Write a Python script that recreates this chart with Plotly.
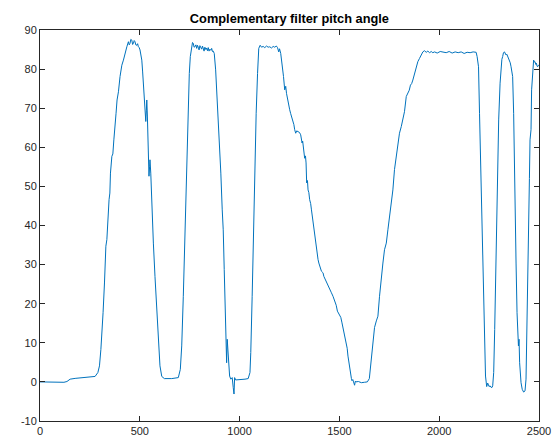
import plotly.graph_objects as go

# Sample index
sample = [
    0, 40, 80, 120, 135, 151, 176, 226, 276, 290, 298, 305, 310, 316, 323, 326, 330, 335, 340, 346,
    350, 353, 360, 365, 370, 376, 381, 386, 393, 401, 410, 418, 426, 435, 443, 447, 451, 455, 460, 464,
    468, 472, 476, 480, 485, 489, 493, 497, 501, 505, 510, 514, 518, 521, 523, 527, 530, 533, 535, 538,
    540, 543, 546, 549, 551, 555, 560, 563, 568, 576, 585, 593, 601, 610, 623, 660, 693, 703, 710, 718,
    726, 735, 740, 743, 748, 753, 760, 764, 768, 772, 776, 781, 785, 789, 793, 797, 801, 806, 810, 814,
    818, 822, 826, 831, 835, 839, 843, 847, 851, 856, 860, 864, 868, 873, 880, 887, 893, 901, 906, 913,
    918, 923, 928, 933, 935, 938, 943, 950, 956, 963, 968, 972, 975, 980, 1027, 1043, 1052, 1056, 1063, 1070,
    1076, 1083, 1090, 1096, 1103, 1110, 1118, 1126, 1135, 1143, 1151, 1160, 1168, 1176, 1184, 1190, 1196, 1200, 1206, 1213,
    1220, 1226, 1231, 1235, 1239, 1243, 1247, 1251, 1256, 1260, 1264, 1268, 1272, 1276, 1281, 1286, 1293, 1300, 1306, 1313,
    1316, 1320, 1326, 1330, 1333, 1336, 1340, 1343, 1347, 1351, 1356, 1360, 1364, 1368, 1372, 1376, 1380, 1385, 1389, 1393,
    1397, 1401, 1405, 1410, 1414, 1418, 1422, 1426, 1430, 1435, 1443, 1451, 1460, 1468, 1476, 1484, 1490, 1496, 1501, 1507,
    1513, 1518, 1523, 1529, 1535, 1539, 1543, 1547, 1551, 1556, 1560, 1563, 1567, 1571, 1574, 1576, 1580, 1583, 1595, 1610,
    1625, 1640, 1650, 1656, 1663, 1670, 1676, 1685, 1693, 1701, 1710, 1718, 1726, 1735, 1743, 1751, 1760, 1768, 1776, 1785,
    1793, 1801, 1810, 1818, 1826, 1835, 1843, 1850, 1856, 1862, 1868, 1876, 1885, 1893, 1901, 1910, 1918, 1926, 1935, 1943,
    1952, 1960, 1968, 1977, 1990, 2005, 2020, 2035, 2050, 2065, 2080, 2095, 2110, 2125, 2140, 2155, 2170, 2185, 2190, 2197,
    2202, 2207, 2212, 2217, 2222, 2226, 2232, 2238, 2243, 2250, 2255, 2260, 2265, 2268, 2273, 2278, 2283, 2288, 2293, 2298,
    2305, 2310, 2314, 2318, 2322, 2327, 2331, 2335, 2339, 2343, 2348, 2352, 2356, 2360, 2364, 2368, 2373, 2376, 2380, 2385,
    2390, 2397, 2400, 2403, 2410, 2416, 2423, 2430, 2435, 2440, 2445, 2450, 2452, 2455, 2458, 2460, 2463, 2468, 2473, 2477,
    2480, 2484, 2487, 2490, 2493, 2497, 2500,
]

# Pitch angle in degrees
pitch = [
    0.0, 0.0, -0.1, -0.1, 0.1, 0.7, 0.9, 1.1, 1.4, 2.4, 4.1, 8.3, 11.7, 17.7, 25.3, 30.4, 34.7, 36.4, 42.3, 46.6,
    48.3, 53.4, 57.7, 58.3, 61.9, 67.0, 68.7, 72.1, 74.2, 78.1, 81.0, 82.3, 83.6, 85.7, 87.0, 86.2, 86.6, 87.6, 87.4, 86.3,
    86.6, 87.3, 87.0, 86.2, 86.1, 86.5, 85.7, 85.5, 84.9, 84.0, 82.3, 79.5, 76.4, 74.7, 74.2, 70.0, 66.6, 69.5, 72.1, 68.0,
    65.3, 60.2, 52.6, 55.0, 56.8, 53.4, 45.7, 40.6, 35.5, 27.0, 19.4, 11.7, 4.1, 1.4, 0.85, 0.85, 1.1, 3.2, 9.2, 21.9,
    38.9, 51.7, 61.1, 70.4, 78.9, 83.2, 85.3, 86.8, 86.6, 85.6, 85.7, 86.2, 85.3, 86.1, 85.6, 84.9, 86.0, 85.4, 85.1, 85.9,
    85.2, 84.6, 85.6, 85.0, 85.4, 84.7, 85.5, 84.6, 85.1, 84.8, 85.3, 84.5, 84.6, 84.0, 79.8, 73.0, 66.2, 57.7, 53.4, 44.0,
    38.9, 28.7, 17.7, 5.8, 4.9, 10.9, 6.6, 1.5, 0.7, 1.1, -1.4, -3.1, 1.1, 0.5, 0.7, 0.85, 2.4, 7.5, 21.9, 38.9,
    56.0, 68.7, 78.9, 85.3, 86.1, 85.6, 85.8, 85.5, 85.9, 85.6, 85.7, 85.4, 85.8, 85.6, 85.9, 85.5, 84.4, 85.2, 84.0, 81.5,
    78.1, 74.7, 75.6, 73.8, 72.6, 71.3, 70.9, 69.6, 68.6, 67.9, 67.5, 67.0, 65.8, 64.5, 63.6, 64.2, 64.0, 63.8, 63.2, 61.1,
    61.6, 59.4, 57.2, 57.8, 56.0, 50.9, 51.5, 49.1, 48.4, 46.6, 45.6, 44.0, 42.4, 40.6, 39.4, 37.2, 36.0, 33.8, 32.6, 31.3,
    30.4, 29.6, 28.7, 28.3, 28.1, 27.9, 27.0, 26.6, 26.0, 25.3, 24.5, 23.7, 22.8, 21.9, 20.7, 19.6, 18.1, 17.6, 17.3, 16.5,
    15.1, 14.0, 12.6, 11.4, 10.0, 8.6, 6.6, 5.0, 3.2, 1.5, 0.9, 0.3, 0.6, 0.0, -0.3, -0.85, 0.2, 0.0, 0.1, -0.2,
    -0.1, 0.0, 0.85, 4.1, 7.5, 11.7, 13.9, 15.6, 16.8, 21.9, 27.0, 30.4, 33.8, 35.5, 38.9, 42.3, 45.7, 49.1, 54.3, 57.7,
    61.1, 63.6, 65.3, 67.4, 69.1, 73.0, 73.8, 74.6, 75.9, 76.3, 77.2, 78.9, 80.6, 81.9, 82.7, 83.6, 84.4, 84.7, 84.3, 84.6,
    84.2, 84.5, 84.2, 84.4, 84.1, 84.5, 84.3, 84.2, 84.5, 84.1, 84.4, 84.2, 84.4, 84.0, 84.3, 84.2, 84.4, 84.3, 83.2, 80.6,
    68.7, 56.0, 45.7, 30.4, 17.7, 8.3, 1.5, -1.2, -0.3, -1.2, -1.0, -1.4, -1.4, -1.0, 2.4, 13.4, 28.7, 45.7, 57.7, 67.0,
    76.4, 80.6, 82.5, 83.2, 84.2, 84.4, 84.0, 83.6, 83.8, 83.2, 83.0, 82.3, 81.6, 80.6, 79.6, 78.1, 68.7, 56.0, 45.7, 30.4,
    17.7, 9.2, 10.9, 4.9, -0.2, -1.9, -2.6, -2.3, 0.7, 13.4, 30.4, 47.4, 52.0, 61.9, 63.0, 64.5, 74.7, 80.6, 82.3, 81.8,
    81.9, 81.2, 81.5, 80.8, 80.6, 81.0, 80.9,
]

x_ticks = [0, 500, 1000, 1500, 2000, 2500]
y_ticks = [-10, 0, 10, 20, 30, 40, 50, 60, 70, 80, 90]
y_tick_labels = ["-10", "0", "10", "20", "30", "40", "50", "60", "70", "80", "90"]

fig = go.Figure()
fig.add_trace(go.Scatter(
    x=sample, y=pitch, mode="lines",
    line=dict(color="#0072BD", width=1),
    hoverinfo="skip", showlegend=False,
))

font_family = "Liberation Sans, Arial, sans-serif"
axis_common = dict(
    showgrid=False, zeroline=False, automargin=False,
    showline=True, linecolor="#262626", linewidth=1, mirror="ticks",
    ticks="inside", ticklen=5, tickcolor="#262626", tickwidth=1,
    tickfont=dict(family=font_family, size=11, color="#262626"),
)

fig.update_layout(
    width=554, height=441,
    margin=dict(l=40, r=15, t=30, b=20),
    paper_bgcolor="white", plot_bgcolor="white",
    title=dict(
        text="<b>Complementary filter pitch angle</b>",
        x=0.5224, xanchor="center", y=0.959, yanchor="middle",
        font=dict(family=font_family, size=12.8, color="black"),
    ),
    xaxis=dict(range=[0, 2500], tickvals=x_ticks, ticktext=[str(v) for v in x_ticks], **axis_common),
    yaxis=dict(range=[-10, 90], tickvals=y_ticks, ticktext=y_tick_labels, **axis_common),
)

fig.write_html(
    "out.html",
    config={"responsive": False, "displayModeBar": False},
    post_script="document.body.style.margin='0';document.body.style.overflow='hidden';",
)
